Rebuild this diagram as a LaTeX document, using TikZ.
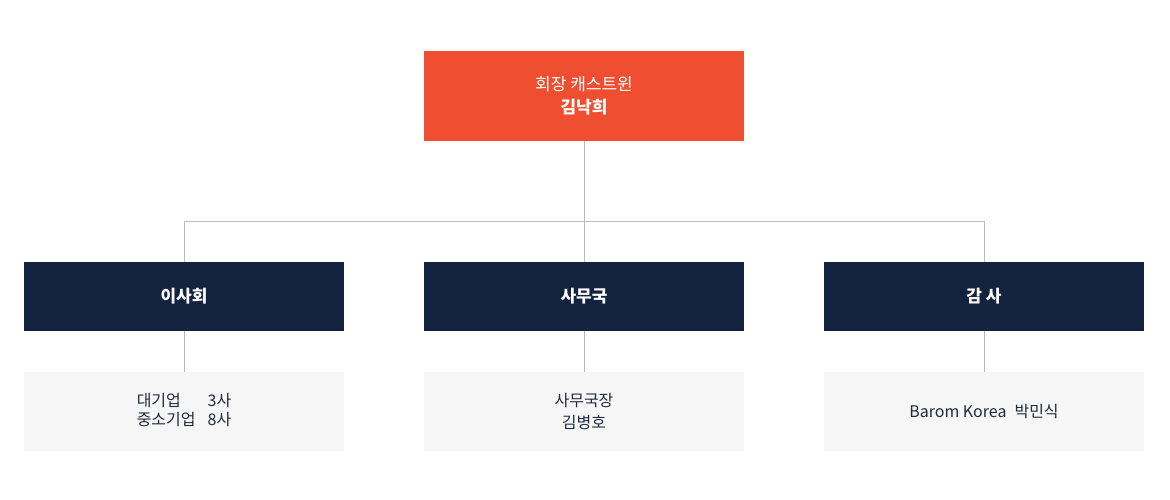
\documentclass[tikz,border=0pt]{standalone}
\usepackage{fontspec}
\setmainfont{Noto Sans CJK KR}
\newfontfamily\kb[BoldFont={Noto Sans CJK KR Bold}]{Noto Sans CJK KR}
\definecolor{topc}{HTML}{F04E31}
\definecolor{navy}{HTML}{13223F}
\definecolor{lgray}{HTML}{F6F6F6}
\definecolor{linec}{HTML}{BBBBBB}
\definecolor{txt}{HTML}{222A3C}
\begin{document}
\begin{tikzpicture}[x=1pt,y=-1pt,
  box/.style={minimum width=320pt,inner sep=0pt,align=center,font=\fontsize{17}{23}\selectfont},
  topbox/.style={box,fill=topc,text=white,minimum height=90pt},
  midbox/.style={box,fill=navy,text=white,minimum height=69pt,font=\fontsize{17}{23}\selectfont\bfseries},
  lowbox/.style={box,fill=lgray,text=txt,minimum height=79pt,font=\fontsize{16}{22}\selectfont},
  conn/.style={draw=linec,line width=0.8pt}]
\useasboundingbox (0,0) rectangle (1170,499);
\node[topbox] (top) at (584,96) {회장 캐스트윈\\\textbf{김낙희}};
\node[midbox] (m1) at (184,296.5) {이사회};
\node[midbox] (m2) at (584,296.5) {사무국};
\node[midbox] (m3) at (984,296.5) {감 사};
\node[lowbox] (l1) at (184,411.5) {\begin{tabular}{@{}l@{\hspace{12pt}}l@{}}대기업 & 3사\\[-3pt]중소기업 & 8사\end{tabular}};
\node[lowbox] (l2) at (584,411.5) {사무국장\\김병호};
\node[lowbox] (l3) at (984,411.5) {Barom Korea\hspace{8pt}박민식};
\coordinate (h1) at (184,221);
\coordinate (h3) at (984,221);
\draw[conn] (top.south) -- (m2.north);
\draw[conn] (m1.north) -- (h1) -- (h3) -- (m3.north);
\draw[conn] (m1.south) -- (l1.north);
\draw[conn] (m2.south) -- (l2.north);
\draw[conn] (m3.south) -- (l3.north);
\end{tikzpicture}
\end{document}
